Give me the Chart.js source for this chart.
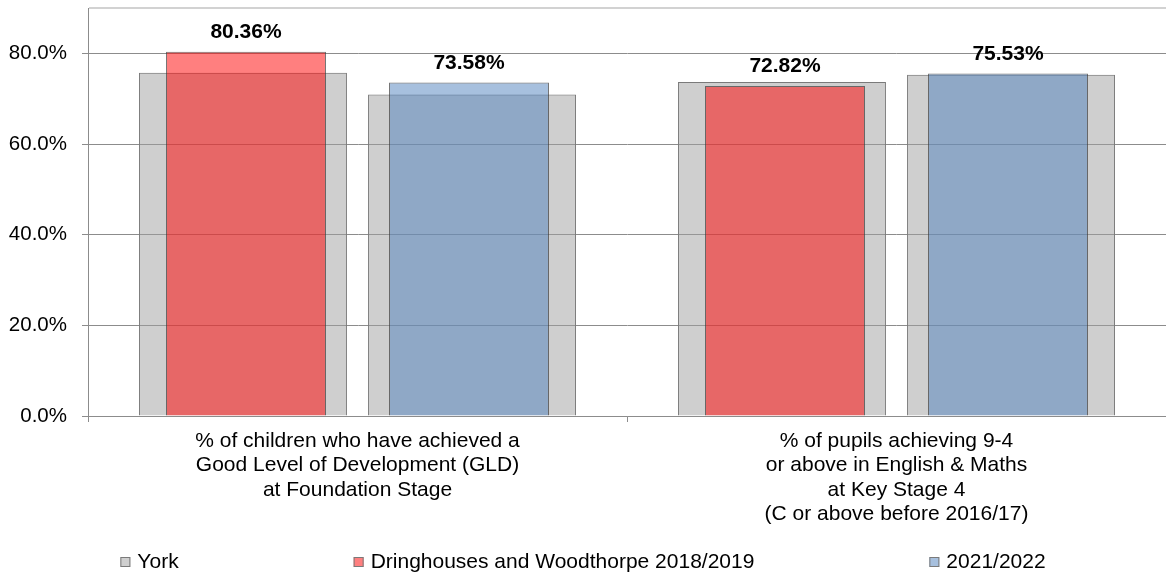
<!DOCTYPE html>
<html>
<head>
<meta charset="utf-8">
<style>
  html, body { margin: 0; padding: 0; background: #fff; }
  #wrap { width: 1166px; height: 572px; position: relative; }
</style>
<script src="https://cdn.jsdelivr.net/npm/chart.js@4/dist/chart.umd.min.js"></script>
</head>
<body>
<div id="wrap"><canvas id="chart"></canvas></div>
<script>
// values
const categories = [
  ['% of children who have achieved a', 'Good Level of Development (GLD)', 'at Foundation Stage'],
  ['% of pupils achieving 9-4', 'or above in English & Maths', 'at Key Stage 4', '(C or above before 2016/17)']
];
const yorkFirst = [75.7, 73.7];    // York, behind the 2018/2019 bar
const yorkSecond = [70.9, 75.3];   // York, behind the 2021/2022 bar
const dringhouses = [80.36, 72.82];
const latest = [73.58, 75.53];
const seriesNames = ['York', 'Dringhouses and Woodthorpe 2018/2019', '2021/2022'];
const yTickValues = [0, 20, 40, 60, 80, 90];
const yMax = 90;

const FONT = "'Liberation Sans', Arial, sans-serif";
Chart.defaults.font.family = FONT;
Chart.defaults.color = '#000';

const greyFill = 'rgba(160,160,160,0.5)';
const redFill = 'rgba(255,0,0,0.5)';
const blueFill = 'rgba(79,129,189,0.5)';
const gridGrey = '#8c8c8c';

// values written above the coloured bars
const valueLabels = {
  id: 'valueLabels',
  afterDatasetsDraw(chart) {
    const ctx = chart.ctx;
    ctx.save();
    ctx.font = 'bold 21px ' + FONT;
    ctx.fillStyle = '#000';
    ctx.textAlign = 'center';
    ctx.textBaseline = 'alphabetic';
    chart.data.datasets.forEach((ds, i) => {
      if (!ds.showValue) return;
      chart.getDatasetMeta(i).data.forEach((bar, j) => {
        ctx.fillText(ds.data[j].toFixed(2) + '%', bar.x, bar.y - 13.5);
      });
    });
    ctx.restore();
  }
};

// Excel-like spread legend along the bottom
const spreadLegend = {
  id: 'spreadLegend',
  afterDraw(chart) {
    const ctx = chart.ctx;
    const items = [
      { text: seriesNames[0], fill: greyFill },
      { text: seriesNames[1], fill: redFill },
      { text: seriesNames[2], fill: blueFill }
    ];
    const box = 10, boxGap = 7, itemGap = 175, baseline = 567.5;
    ctx.save();
    ctx.font = '21px ' + FONT;
    const widths = items.map(it => box + boxGap + ctx.measureText(it.text).width);
    const total = widths.reduce((a, b) => a + b, 0) + itemGap * (items.length - 1);
    let x = (chart.width - total) / 2;
    items.forEach((it, i) => {
      const top = baseline - 10.5;
      ctx.fillStyle = '#fff';
      ctx.fillRect(x, top, box, box);
      ctx.fillStyle = it.fill;
      ctx.fillRect(x, top, box, box);
      ctx.strokeStyle = '#7a7a7a';
      ctx.lineWidth = 1;
      ctx.strokeRect(x + 0.5, top + 0.5, box - 1, box - 1);
      ctx.fillStyle = '#000';
      ctx.textBaseline = 'alphabetic';
      ctx.textAlign = 'left';
      ctx.fillText(it.text, x + box + boxGap, baseline);
      x += widths[i] + itemGap;
    });
    ctx.restore();
  }
};

// two slots per category: York sits behind the coloured bar in the same slot
new Chart(document.getElementById('chart'), {
  type: 'bar',
  data: {
    labels: categories,
    datasets: [
      {
        label: seriesNames[0], data: yorkFirst, stack: 'first', order: 2,
        backgroundColor: greyFill, borderColor: '#7a7a7a', borderWidth: 1,
        categoryPercentage: 0.85, barPercentage: 0.908
      },
      {
        label: seriesNames[0], data: yorkSecond, stack: 'second', order: 2,
        backgroundColor: greyFill, borderColor: '#7a7a7a', borderWidth: 1,
        categoryPercentage: 0.85, barPercentage: 0.908
      },
      {
        label: seriesNames[1], data: dringhouses, stack: 'first', order: 1, showValue: true,
        backgroundColor: redFill, borderColor: 'rgba(60,60,60,0.7)', borderWidth: 1,
        categoryPercentage: 0.8275, barPercentage: 0.7175
      },
      {
        label: seriesNames[2], data: latest, stack: 'second', order: 1, showValue: true,
        backgroundColor: blueFill, borderColor: 'rgba(60,60,60,0.7)', borderWidth: 1,
        categoryPercentage: 0.8275, barPercentage: 0.7175
      }
    ]
  },
  options: {
    responsive: true,
    maintainAspectRatio: false,
    animation: false,
    layout: { padding: { top: 8, right: 0, bottom: 0, left: 0 } },
    plugins: {
      legend: { display: false },
      tooltip: { enabled: false }
    },
    scales: {
      x: {
        type: 'category',
        stacked: true,
        offset: true,
        grid: {
          offset: true, drawOnChartArea: false, drawTicks: true,
          tickLength: 6, color: gridGrey
        },
        border: { color: gridGrey },
        ticks: {
          autoSkip: false, maxRotation: 0, padding: 6.5,
          font: { size: 21, lineHeight: 1.17 }, color: '#000'
        },
        afterFit(scale) {
          scale.height = 156;
          scale.paddingLeft = 0;
          scale.paddingRight = 0;
        }
      },
      y: {
        stacked: false,
        min: 0,
        max: yMax,
        afterBuildTicks(scale) {
          scale.ticks = yTickValues.map(v => ({ value: v }));
        },
        ticks: {
          padding: 15,
          font: { size: 20.5 },
          color: '#000',
          callback: v => (v === yMax ? '' : v.toFixed(1) + '%')
        },
        grid: {
          tickLength: 6,
          color: c => (c.tick && c.tick.value === yMax ? '#d2d2d2' : gridGrey),
          lineWidth: c => (c.tick && c.tick.value === yMax ? 2 : 1),
          tickColor: c => (c.tick && c.tick.value === yMax ? 'rgba(0,0,0,0)' : gridGrey)
        },
        border: { color: gridGrey },
        afterFit(scale) {
          scale.width = 88;
          scale.paddingTop = 0;
          scale.paddingBottom = 0;
        }
      }
    }
  },
  plugins: [valueLabels, spreadLegend]
});
</script>
</body>
</html>
